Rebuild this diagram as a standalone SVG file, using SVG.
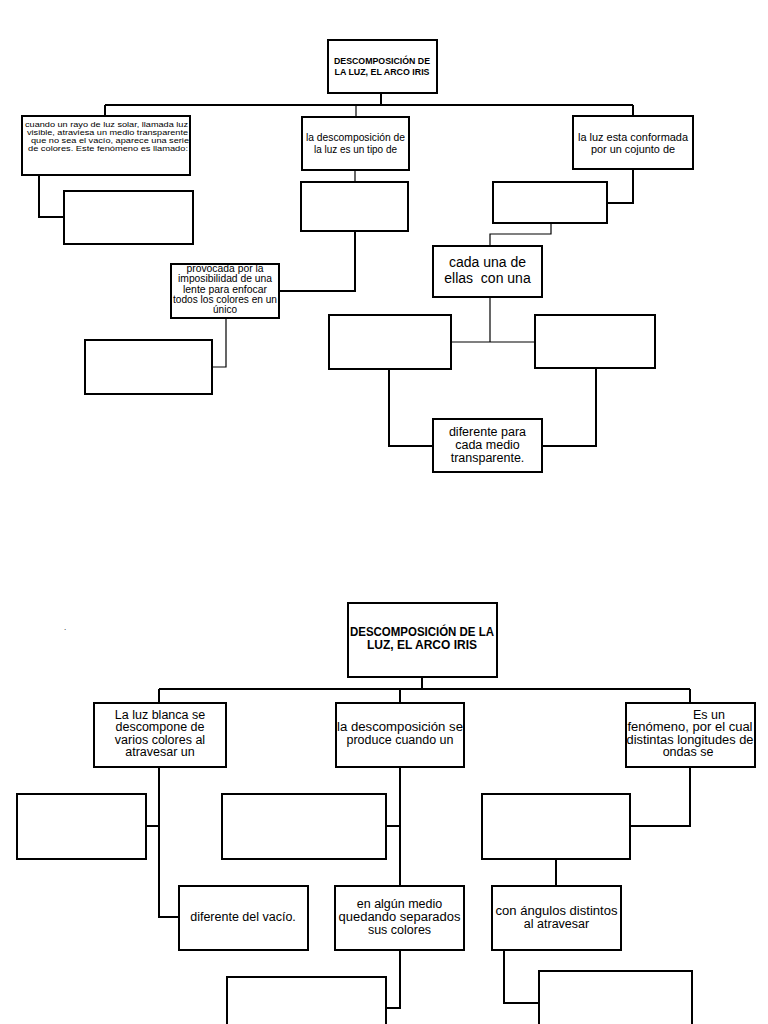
<svg xmlns="http://www.w3.org/2000/svg" width="768" height="1024" viewBox="0 0 768 1024">
<style>
  .box { fill: #fff; stroke: #000; stroke-width: 2; }
  .ln { fill: none; stroke: #000; stroke-width: 2; }
  .thin { fill: none; stroke: #000; stroke-width: 1.2; }
  .t { font-family: "Liberation Sans", Arial, sans-serif; fill: #000; text-anchor: middle; }
  .ts { font-family: "Liberation Sans", Arial, sans-serif; fill: #000; }
  .tb { font-family: "Liberation Sans", Arial, sans-serif; font-weight: bold; fill: #000; text-anchor: middle; }
</style>
<rect width="768" height="1024" fill="#fff"/>

<g id="connectors">
  <!-- section 1 -->
  <path class="ln" d="M381 93 V105"/>
  <path class="ln" stroke-width="2.5" d="M105 105 H633"/>
  <path class="ln" d="M105 105 V116"/>
  <path class="thin" d="M356 105 V117"/>
  <path class="ln" d="M633 105 V116"/>
  <path class="ln" d="M39 175 V217 H64"/>
  <path class="thin" d="M355 170 V182"/>
  <path class="ln" d="M355 231 V291 H279"/>
  <path class="ln" d="M633 169 V203 H607"/>
  <path class="thin" d="M551 223 V234 H490 V246"/>
  <path class="thin" d="M226 318 V367 H212"/>
  <path class="thin" d="M490 297 V342"/>
  <path class="thin" d="M451 342 H535"/>
  <path class="ln" d="M389 369 V446 H433"/>
  <path class="ln" d="M596 368 V446 H542"/>
  <!-- section 2 -->
  <path class="ln" d="M422 677 V689"/>
  <path class="ln" d="M159 689 H690"/>
  <path class="ln" d="M159 689 V703 M400 689 V703 M690 689 V703"/>
  <path class="ln" d="M159 767 V917 H179"/>
  <path class="ln" d="M146 826 H159"/>
  <path class="ln" d="M400 767 V886"/>
  <path class="ln" d="M386 826 H400"/>
  <path class="ln" d="M400 950 V1008 H386"/>
  <path class="ln" d="M690 767 V826 H630"/>
  <path class="ln" d="M556 859 V886"/>
  <path class="ln" d="M504 950 V1003 H539"/>
</g>

<!-- Section 1 -->
<g id="title1">
  <rect class="box" x="328" y="40" width="109" height="53"/>
  <text class="tb" font-size="9" x="382" y="64" textLength="96" lengthAdjust="spacingAndGlyphs">DESCOMPOSICIÓN DE</text>
  <text class="tb" font-size="9" x="382" y="75" textLength="95" lengthAdjust="spacingAndGlyphs">LA LUZ, EL ARCO IRIS</text>
</g>
<g id="n-cuando">
  <rect class="box" x="22" y="116" width="168" height="59"/>
  <text class="ts" font-size="7.2" x="25" y="127" textLength="163" lengthAdjust="spacingAndGlyphs">cuando un rayo de luz solar, llamada luz</text>
  <text class="ts" font-size="7.2" x="27" y="135" textLength="161" lengthAdjust="spacingAndGlyphs">visible, atraviesa un medio transparente</text>
  <text class="ts" font-size="7.2" x="31" y="143" textLength="158" lengthAdjust="spacingAndGlyphs">que no sea el vacío, aparece una serie</text>
  <text class="ts" font-size="7.2" x="28" y="151" textLength="160" lengthAdjust="spacingAndGlyphs">de colores. Este fenómeno es llamado:</text>
</g>
<g id="n-tipo">
  <rect class="box" x="302" y="117" width="107" height="53"/>
  <text class="t" font-size="10.5" x="355.5" y="141" textLength="99" lengthAdjust="spacingAndGlyphs">la descomposición de</text>
  <text class="t" font-size="10.5" x="355.5" y="152.5" textLength="83" lengthAdjust="spacingAndGlyphs">la luz es un tipo de</text>
</g>
<g id="n-conformada">
  <rect class="box" x="573" y="116" width="120" height="53"/>
  <text class="t" font-size="11" x="633" y="141" textLength="110" lengthAdjust="spacingAndGlyphs">la luz esta conformada</text>
  <text class="t" font-size="11" x="633" y="152.5" textLength="84" lengthAdjust="spacingAndGlyphs">por un cojunto de</text>
</g>
<g id="e1"><rect class="box" x="64" y="191" width="129" height="53"/></g>
<g id="e2"><rect class="box" x="301" y="182" width="107" height="49"/></g>
<g id="e3"><rect class="box" x="493" y="182" width="114" height="41"/></g>
<g id="n-cada">
  <rect class="box" x="433" y="246" width="109" height="51"/>
  <text class="t" font-size="14" x="487.5" y="267">cada una de</text>
  <text class="t" font-size="14" x="487.5" y="282.5" xml:space="preserve">ellas  con una</text>
</g>
<g id="n-provocada">
  <rect class="box" x="171" y="264" width="108" height="54"/>
  <text class="t" font-size="10" x="225" y="271.5" textLength="77" lengthAdjust="spacingAndGlyphs">provocada por la</text>
  <text class="t" font-size="10" x="225" y="282" textLength="94" lengthAdjust="spacingAndGlyphs">imposibilidad de una</text>
  <text class="t" font-size="10" x="225" y="292.5" textLength="84" lengthAdjust="spacingAndGlyphs">lente para enfocar</text>
  <text class="t" font-size="10" x="225" y="302.5" textLength="104" lengthAdjust="spacingAndGlyphs">todos los colores en un</text>
  <text class="t" font-size="10" x="225" y="312.5">único</text>
</g>
<g id="e4"><rect class="box" x="85" y="340" width="127" height="54"/></g>
<g id="e5"><rect class="box" x="329" y="315" width="122" height="54"/></g>
<g id="e6"><rect class="box" x="535" y="315" width="120" height="53"/></g>
<g id="n-diferente-medio">
  <rect class="box" x="433" y="419" width="109" height="53"/>
  <text class="t" font-size="12.5" x="487.5" y="436">diferente para</text>
  <text class="t" font-size="12.5" x="487.5" y="449">cada medio</text>
  <text class="t" font-size="12.5" x="487.5" y="462">transparente.</text>
</g>

<!-- Section 2 -->
<text class="ts" font-size="8" x="64" y="630">.</text>
<g id="title2">
  <rect class="box" x="348" y="603" width="149" height="74"/>
  <text class="tb" font-size="12" x="422" y="635.5" textLength="144" lengthAdjust="spacingAndGlyphs">DESCOMPOSICIÓN DE LA</text>
  <text class="tb" font-size="12" x="422" y="649" textLength="110" lengthAdjust="spacingAndGlyphs">LUZ, EL ARCO IRIS</text>
</g>
<g id="n-blanca">
  <rect class="box" x="94" y="703" width="132" height="64"/>
  <text class="t" font-size="12.5" x="160" y="718.5">La luz blanca se</text>
  <text class="t" font-size="12.5" x="160" y="731">descompone de</text>
  <text class="t" font-size="12.5" x="160" y="743.5">varios colores al</text>
  <text class="t" font-size="12.5" x="160" y="755.5">atravesar un</text>
</g>
<g id="n-produce">
  <rect class="box" x="336" y="703" width="128" height="64"/>
  <text class="t" font-size="12.5" x="400" y="731" textLength="126" lengthAdjust="spacingAndGlyphs">la descomposición se</text>
  <text class="t" font-size="12.5" x="400" y="743.5">produce cuando un</text>
</g>
<g id="n-fenomeno">
  <rect class="box" x="626" y="703" width="129" height="64"/>
  <text class="t" font-size="12.5" x="709" y="718.5">Es un</text>
  <text class="t" font-size="12.5" x="690" y="731" textLength="125" lengthAdjust="spacingAndGlyphs">fenómeno, por el cual</text>
  <text class="t" font-size="12.5" x="690" y="743.5" textLength="127" lengthAdjust="spacingAndGlyphs">distintas longitudes de</text>
  <text class="t" font-size="12.5" x="688" y="755.5">ondas se</text>
</g>
<g id="e7"><rect class="box" x="17" y="794" width="129" height="65"/></g>
<g id="e8"><rect class="box" x="222" y="794" width="164" height="65"/></g>
<g id="e9"><rect class="box" x="482" y="794" width="148" height="65"/></g>
<g id="n-vacio">
  <rect class="box" x="179" y="886" width="129" height="64"/>
  <text class="t" font-size="12.5" x="243" y="921">diferente del vacío.</text>
</g>
<g id="n-algun">
  <rect class="box" x="335" y="886" width="129" height="64"/>
  <text class="t" font-size="12.5" x="399.5" y="908">en algún medio</text>
  <text class="t" font-size="12.5" x="399.5" y="921" textLength="122" lengthAdjust="spacingAndGlyphs">quedando separados</text>
  <text class="t" font-size="12.5" x="399.5" y="934">sus colores</text>
</g>
<g id="n-angulos">
  <rect class="box" x="492" y="886" width="129" height="64"/>
  <text class="t" font-size="12.5" x="556.5" y="915" textLength="122" lengthAdjust="spacingAndGlyphs">con ángulos distintos</text>
  <text class="t" font-size="12.5" x="556.5" y="927.5">al atravesar</text>
</g>
<g id="e10"><rect class="box" x="227" y="977" width="159" height="60"/></g>
<g id="e11"><rect class="box" x="539" y="971" width="153" height="66"/></g>
</svg>
